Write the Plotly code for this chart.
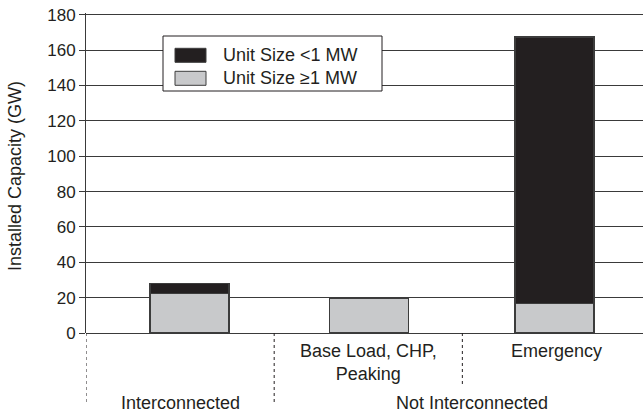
import plotly.graph_objects as go

# data
categories = ["Interconnected", "Base Load, CHP, Peaking", "Emergency"]
tick_labels = ["", "Base Load, CHP,<br>Peaking", "Emergency"]
size_ge_1mw = [22.2, 19.5, 16.6]
size_lt_1mw = [5.8, 0.0, 150.8]
group_labels = ["Interconnected", "Not Interconnected"]
y_ticks = [0, 20, 40, 60, 80, 100, 120, 140, 160, 180]

BLACK = "#231f20"
GRAY = "#c8c9cb"
EDGE = "#3c3c3c"
FONT = "Liberation Sans, Arial, sans-serif"

W, H = 643, 414
L, R, T, B = 86, 0, 13, 414 - 333
PW, PH = W - L - R, H - T - B


def px(x):
    return (x - L) / PW


def py(y):
    return (H - B - y) / PH


xpos = list(range(len(categories)))
bar_offset = [-0.16, -0.205, -0.22]
bar_width = 0.42

fig = go.Figure()
traces = [
    ("Unit Size \u22651 MW", size_ge_1mw, GRAY),
    ("Unit Size <1 MW", size_lt_1mw, BLACK),
]
for name, vals, col in traces:
    fig.add_bar(
        x=xpos, y=vals, name=name, showlegend=False,
        marker=dict(color=col, line=dict(color=EDGE, width=1.2)),
        offset=bar_offset, width=bar_width,
    )

# dotted separators below the axis
for xs, ybot in [(-0.5, 402), (0.5, 402), (1.5, 387)]:
    fig.add_shape(type="line", xref="x", yref="paper", x0=xs, x1=xs, y0=0, y1=py(ybot),
                  line=dict(color=BLACK, width=1, dash="dot"))

# group labels
for gx, txt in zip([0, 1.55], group_labels):
    fig.add_annotation(x=gx, y=py(403), xref="x", yref="paper", text=txt, showarrow=False,
                       yanchor="middle", font=dict(size=18, color=BLACK, family=FONT))

# y axis title
fig.add_annotation(x=px(15), y=py(176), xref="paper", yref="paper",
                   text="Installed Capacity (GW)", textangle=-90, showarrow=False,
                   xanchor="center", yanchor="middle",
                   font=dict(size=18, color=BLACK, family=FONT))

# legend box drawn by hand so the swatches keep their wide shape
fig.add_shape(type="rect", xref="paper", yref="paper", x0=px(163), x1=px(382),
              y0=py(91), y1=py(36), line=dict(color=BLACK, width=1), fillcolor="white",
              layer="above")
for (name, vals, col), yc in zip(reversed(traces), [55.3, 78.3]):
    fig.add_shape(type="rect", xref="paper", yref="paper", x0=px(175), x1=px(206),
                  y0=py(yc + 7), y1=py(yc - 7), fillcolor=col,
                  line=dict(color=EDGE, width=1), layer="above")
    fig.add_annotation(x=px(221), y=py(yc), xref="paper", yref="paper", text=name,
                       showarrow=False, xanchor="left", yanchor="middle",
                       font=dict(size=18, color=BLACK, family=FONT))

fig.update_layout(
    width=W, height=H,
    margin=dict(l=L, r=R, t=T, b=B, autoexpand=False),
    barmode="stack",
    plot_bgcolor="white", paper_bgcolor="white",
    font=dict(family=FONT, size=17, color=BLACK),
    showlegend=False,
    xaxis=dict(
        range=[-0.5, 2.46], tickmode="array", tickvals=xpos, ticktext=tick_labels,
        showgrid=False, zeroline=False, showline=False, ticks="",
        tickfont=dict(size=18, color=BLACK), ticklabelstandoff=5,
        automargin=False, fixedrange=True,
    ),
    yaxis=dict(
        range=[0, 181], tickvals=y_ticks,
        showgrid=True, gridcolor="#3a3a3a", gridwidth=1,
        zeroline=True, zerolinecolor="#3a3a3a", zerolinewidth=1,
        showline=True, linecolor="#3a3a3a", linewidth=1,
        ticks="outside", ticklen=6, tickcolor="#3a3a3a",
        tickfont=dict(size=17, color=BLACK), ticklabeloverflow="allow",
        automargin=False,
    ),
)

# drop the browser's default body margin so the 643x414 figure fills the window
fig.write_html("out.html", config={"displayModeBar": False},
               post_script="document.body.style.margin = '0px';")
